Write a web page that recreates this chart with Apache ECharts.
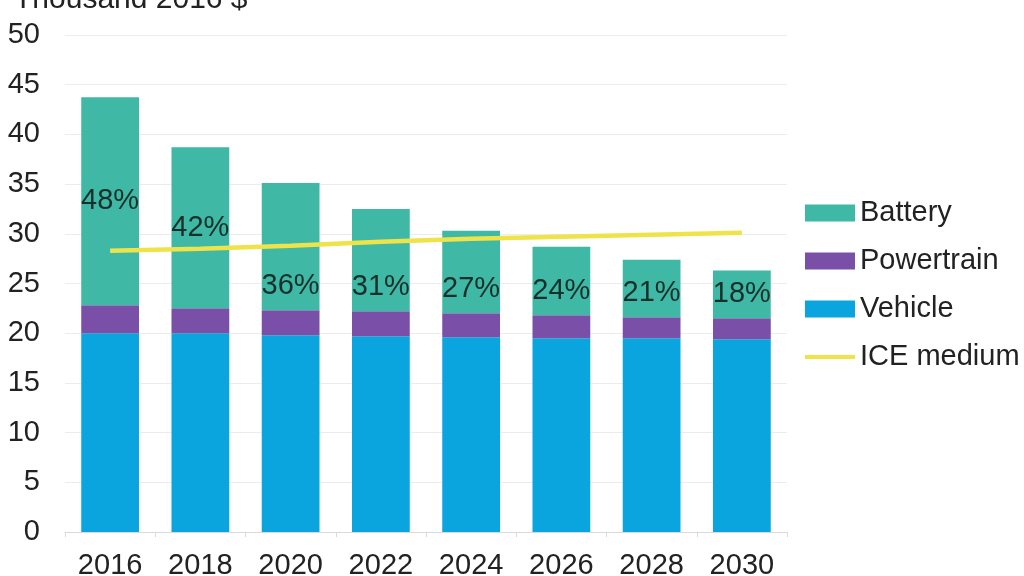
<!DOCTYPE html>
<html>
<head>
<meta charset="utf-8">
<script src="https://cdn.jsdelivr.net/npm/echarts@6/dist/echarts.min.js"></script>
<style>html,body{margin:0;padding:0;background:#fff}#c{width:1024px;height:576px}</style>
</head>
<body>
<div id="c"></div>
<script>
const years = ['2016','2018','2020','2022','2024','2026','2028','2030'];
const vehicle = [20.0, 20.0, 19.8, 19.7, 19.6, 19.5, 19.5, 19.4];
const powertrain = [2.8, 2.5, 2.5, 2.5, 2.4, 2.3, 2.1, 2.1];
const battery = [20.95, 16.2, 12.8, 10.3, 8.3, 6.9, 5.8, 4.8];
const iceMedium = [28.3, 28.5, 28.8, 29.2, 29.5, 29.7, 29.9, 30.1];
const batteryShare = ['48%','42%','36%','31%','27%','24%','21%','18%'];
const yTicks = [0,5,10,15,20,25,30,35,40,45,50];

const font = 'Liberation Sans, Arial, sans-serif';
const fs = 29;
const chart = echarts.init(document.getElementById('c'));
chart.setOption({
  animation: false,
  textStyle: {fontFamily: font},
  title: {text: 'Thousand 2016 $', left: 9, top: -20,
    textStyle: {fontFamily: font, fontSize: 30, fontWeight: 'normal', color: '#222'}},
  grid: {left: 65, right: 237, top: 35, bottom: 44, outerBoundsMode: 'none', containLabel: false},
  legend: {
    orient: 'vertical', left: 800, top: 192,
    itemWidth: 50, itemHeight: 17, itemGap: 16,
    textStyle: {fontFamily: font, fontSize: fs, color: '#222', lineHeight: 32},
    data: [
      {name: 'Battery', icon: 'rect'},
      {name: 'Powertrain', icon: 'rect'},
      {name: 'Vehicle', icon: 'rect'},
      {name: 'ICE medium', icon: 'path://M0,0H50V4H0Z'}
    ]
  },
  xAxis: {
    type: 'category', data: years,
    axisLine: {lineStyle: {color: '#d9d9d9'}},
    axisTick: {show: true, lineStyle: {color: '#d9d9d9'}},
    axisLabel: {fontFamily: font, fontSize: fs, color: '#222', margin: 19}
  },
  yAxis: {
    type: 'value', min: 0, max: 50, interval: 5,
    axisLine: {show: false}, axisTick: {show: false},
    splitLine: {lineStyle: {color: '#ececec'}},
    axisLabel: {fontFamily: font, fontSize: fs, color: '#222', margin: 25,
      formatter: v => yTicks.includes(v) ? String(v) : ''}
  },
  series: [
    {name: 'Vehicle', type: 'bar', stack: 'a', data: vehicle, barCategoryGap: '36%',
      itemStyle: {color: '#0aa5df'}},
    {name: 'Powertrain', type: 'bar', stack: 'a', data: powertrain,
      itemStyle: {color: '#7a4fa7'}},
    {name: 'Battery', type: 'bar', stack: 'a',
      data: battery.map((v, i) => ({value: v,
        label: {position: i < 2 ? 'inside' : 'insideBottom', distance: 10}})),
      itemStyle: {color: '#3fb9a5'},
      label: {show: true, fontFamily: font, fontSize: fs, color: '#17302b',
        formatter: p => batteryShare[p.dataIndex]}},
    {name: 'ICE medium', type: 'line', data: iceMedium, symbol: 'none', showSymbol: false,
      lineStyle: {color: '#efe34a', width: 4.5}, itemStyle: {color: '#efe34a'}, z: 5}
  ]
});
</script>
</body>
</html>
